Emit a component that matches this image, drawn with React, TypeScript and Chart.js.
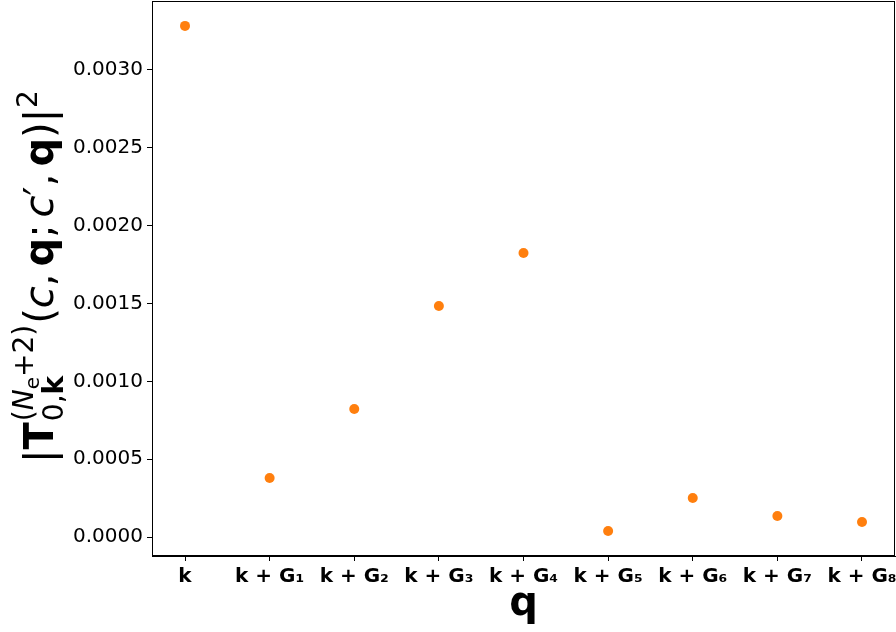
import React, { useEffect, useRef } from "react";
import { Chart, registerables } from "chart.js";

Chart.register(...registerables);

const categories = ["k", "k + G₁", "k + G₂", "k + G₃", "k + G₄", "k + G₅", "k + G₆", "k + G₇", "k + G₈"];
const values = [0.003283, 0.000379, 0.000822, 0.001484, 0.001824, 0.0000385, 0.00025, 0.000135, 0.0000964];
const yTicks = [0, 0.0005, 0.001, 0.0015, 0.002, 0.0025, 0.003];
const xTitle = "q";

const FAM = '"DejaVu Sans"';
const rm = (s: number) => `${s}px ${FAM}`;
const bf = (s: number) => `bold ${s}px ${FAM}`;
const it = (s: number) => `italic ${s}px ${FAM}`;

type Seg = { t: string; f: string; dy?: number; gap?: number };

function runWidth(ctx: CanvasRenderingContext2D, segs: Seg[]) {
  let w = 0;
  for (const s of segs) {
    ctx.font = s.f;
    w += ctx.measureText(s.t).width + (s.gap || 0);
  }
  return w;
}
function drawRun(ctx: CanvasRenderingContext2D, segs: Seg[], x: number, y: number) {
  let cx = x;
  for (const s of segs) {
    ctx.font = s.f;
    ctx.fillText(s.t, cx, y + (s.dy || 0));
    cx += ctx.measureText(s.t).width + (s.gap || 0);
  }
  return cx;
}

const MAIN = 40;
const SCR = 28;
const SCR2 = 20;

const yLabelPlugin = {
  id: "yLabel",
  afterDraw(chart: any) {
    const ctx: CanvasRenderingContext2D = chart.ctx;
    const a = chart.chartArea;
    ctx.save();
    // frame
    ctx.strokeStyle = "#000";
    ctx.lineWidth = 1;
    ctx.strokeRect(a.left + 0.5, a.top + 0.5, a.right - a.left - 1, a.bottom - a.top - 1);
    // x title
    ctx.fillStyle = "#000";
    ctx.textAlign = "left";
    ctx.textBaseline = "alphabetic";
    ctx.font = bf(40);
    const qw = ctx.measureText(xTitle).width;
    ctx.fillText(xTitle, (a.left + a.right) / 2 - qw / 2, 615);

    // y label
    const run1: Seg[] = [
      { t: "|", f: rm(MAIN) },
      { t: "T", f: bf(MAIN) },
    ];
    const sub: Seg[] = [
      { t: "0,", f: rm(SCR) },
      { t: "k", f: bf(SCR) },
    ];
    const sup: Seg[] = [
      { t: "(", f: rm(SCR) },
      { t: "N", f: it(SCR) },
      { t: "e", f: rm(SCR2), dy: 6 },
      { t: "+", f: rm(SCR), gap: 0 },
      { t: "2)", f: rm(SCR) },
    ];
    const run2: Seg[] = [
      { t: "(", f: rm(MAIN) },
      { t: "c", f: it(MAIN) },
      { t: ",", f: rm(MAIN), gap: 7 },
      { t: "q", f: bf(MAIN) },
      { t: ";", f: rm(MAIN), gap: 7 },
      { t: "c", f: it(MAIN) },
      { t: "′", f: rm(MAIN) },
      { t: ",", f: rm(MAIN), gap: 7 },
      { t: "q", f: bf(MAIN) },
      { t: ")", f: rm(MAIN) },
      { t: "|", f: rm(MAIN) },
    ];
    const sup2: Seg[] = [{ t: "2", f: rm(SCR) }];

    const w1 = runWidth(ctx, run1);
    const wsub = runWidth(ctx, sub);
    const wsup = runWidth(ctx, sup);
    const ws = Math.max(wsub, wsup) + 2;
    const w2 = runWidth(ctx, run2);
    const w3 = runWidth(ctx, sup2);
    const total = w1 + ws + w2 + w3;

    const baseX = 53; // screen x of baseline
    const cy = 277; // screen y of centre
    ctx.translate(baseX, cy);
    ctx.rotate(-Math.PI / 2);
    let x = -total / 2;
    x = drawRun(ctx, run1, x, 0);
    drawRun(ctx, sub, x + 1, 10);
    drawRun(ctx, sup, x + 1, -20);
    x += ws;
    x = drawRun(ctx, run2, x, 0);
    drawRun(ctx, sup2, x + 1, -16);
    ctx.restore();
  },
};

export default function App() {
  const ref = useRef<HTMLCanvasElement | null>(null);
  useEffect(() => {
    document.body.style.margin = "0";
    const c = ref.current!;
    const chart = new Chart(c, {
      type: "scatter",
      data: {
        datasets: [
          {
            data: values.map((v, i) => ({ x: i, y: v })),
            backgroundColor: "#ff7f0e",
            borderColor: "#ff7f0e",
            pointRadius: 5,
            pointHoverRadius: 5,
            borderWidth: 0,
          },
        ],
      },
      options: {
        responsive: false,
        animation: false,
        devicePixelRatio: 1,
        layout: { autoPadding: false, padding: { top: 1, right: 1, left: 0, bottom: 0 } },
        plugins: { legend: { display: false }, tooltip: { enabled: false } },
        scales: {
          x: {
            type: "linear",
            min: -0.39,
            max: 8.39,
            afterBuildTicks: (s: any) => {
              s.ticks = categories.map((_, i) => ({ value: i }));
            },
            afterFit: (s: any) => {
              s.height = 76;
              s.paddingLeft = 0;
              s.paddingRight = 0;
              s.paddingTop = 0;
              s.paddingBottom = 0;
            },
            ticks: {
              callback: (v: any) => categories[Math.round(v)] ?? "",
              font: { family: "DejaVu Sans", size: 20, weight: "bold" },
              color: "#000",
              maxRotation: 0,
              autoSkip: false,
              padding: 4,
            },
            grid: { drawOnChartArea: false, drawTicks: true, tickLength: 5, color: "#000" },
            border: { display: true, color: "#000" },
          },
          y: {
            type: "linear",
            min: -0.000122,
            max: 0.003443,
            afterBuildTicks: (s: any) => {
              s.ticks = yTicks.map((v) => ({ value: v }));
            },
            afterFit: (s: any) => {
              s.width = 152;
              s.paddingLeft = 0;
              s.paddingRight = 0;
              s.paddingTop = 0;
              s.paddingBottom = 0;
            },
            ticks: {
              callback: (v: any) => Number(v).toFixed(4),
              font: { family: "DejaVu Sans", size: 20 },
              color: "#000",
              padding: 4,
            },
            grid: { drawOnChartArea: false, drawTicks: true, tickLength: 5, color: "#000" },
            border: { display: true, color: "#000" },
          },
        },
      },
      plugins: [yLabelPlugin],
    } as any);
    return () => chart.destroy();
  }, []);
  return (
    <div style={{ position: "absolute", left: 0, top: 0, width: 896, height: 632 }}>
      <canvas ref={ref} width={896} height={632} style={{ width: 896, height: 632, display: "block" }} />
    </div>
  );
}
